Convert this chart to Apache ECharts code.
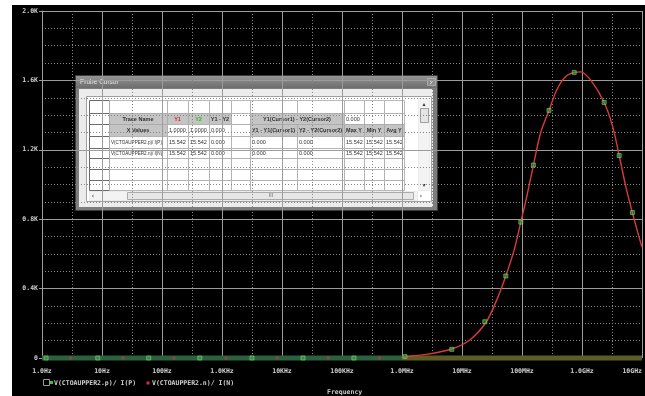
<!DOCTYPE html>
<html>
<head>
<meta charset="utf-8">
<script src="https://cdn.jsdelivr.net/npm/echarts@6/dist/echarts.min.js"></script>
<style>
  html, body { margin: 0; padding: 0; background: #fff; }
  #probe { width: 645px; height: 396px; }
</style>
</head>
<body>
<div id="probe"></div>
<script>
// trace: frequency (Hz) vs V/I
const curveFreqs = [1.0e6, 1.12e6, 2.57e6, 6.76e6, 1.35e7, 2.51e7, 3.80e7, 5.37e7, 7.41e7, 9.55e7,
  1.17e8, 1.55e8, 2.04e8, 2.82e8, 3.80e8, 5.25e8, 7.41e8, 9.55e8, 1.45e9, 2.34e9,
  3.24e9, 4.17e9, 5.37e9, 6.92e9, 8.71e9, 1.0e10];
const curveValues = [6, 8, 21, 52, 104, 206, 335, 473, 623, 783,
  912, 1112, 1297, 1427, 1546, 1620, 1646, 1649, 1594, 1473,
  1335, 1167, 988, 838, 710, 640];

// trace markers
const markerFreqs = [1.17, 8.5, 60, 427, 3.16e3, 2.24e4, 1.58e5, 1.12e6, 6.76e6, 2.40e7,
  5.37e7, 9.55e7, 1.55e8, 2.82e8, 7.41e8, 2.34e9, 4.17e9, 6.92e9];
const markerValues = [0, 0, 0, 0, 0, 0, 0, 8, 50, 209,
  473, 783, 1112, 1427, 1646, 1473, 1167, 838];
const redMarkerFreqs = [3.0, 22.4, 158, 1.17e3, 8.3e3, 5.9e4, 4.2e5];
const redMarkerValues = [0, 0, 0, 0, 0, 0, 0];

// zero-level bands at the bottom
const lowBandFreqs = [1, 1e6];
const highBandFreqs = [1e6, 1e10];

// one label per decade, 1 Hz .. 10 GHz
const xTickLabels = ['1.0Hz', '10Hz', '100Hz', '1.0KHz', '10KHz', '100KHz', '1.0MHz', '10MHz', '100MHz', '1.0GHz', '10GHz'];
const yTickLabels = ['0', '0.4K', '0.8K', '1.2K', '1.6K', '2.0K'];

// probe cursor table
const cursorRows = [
  ['', '', '', '', '', '', '', '', '', '', ''],
  ['', 'Trace Name', 'Y1', 'Y2', 'Y1 - Y2', '', 'Y1(Cursor1) - Y2(Cursor2)', null, '0.000', '', ''],
  ['', 'X Values', '1.0000', '1.0000', '0.000', '', 'Y1 - Y1(Cursor1)', 'Y2 - Y2(Cursor2)', 'Max Y', 'Min Y', 'Avg Y'],
  ['', 'V(CTOAUPPER2.p)/ I(P)', '15.542', '15.542', '0.000', '', '0.000', '0.000', '15.542', '15.542', '15.542'],
  ['', 'V(CTOAUPPER2.n)/ I(N)', '15.542', '15.542', '0.000', '', '0.000', '0.000', '15.542', '15.542', '15.542'],
  ['', '', '', '', '', '', '', '', '', '', ''],
  ['', '', '', '', '', '', '', '', '', '', ''],
  ['', '', '', '', '', '', '', '', '', '', '']
];

const pairs = (xs, ys) => xs.map((x, i) => [x, ys[i]]);

const mono = 'bold 6.5px "DejaVu Sans Mono", monospace';
const gridGray = '#9c9c9c';
const dotGray = '#858585';

// table layout
const colEdges = [89, 109, 167, 188, 209, 231, 250, 297, 344, 364, 384, 404];
const rowEdges = [100, 113, 124, 136, 148, 158, 169, 180, 190];
const grayCells = { '1-1': 1, '1-2': 1, '1-3': 1, '1-4': 1, '1-6': 1, '2-1': 1, '2-6': 1, '2-7': 1, '2-8': 1, '2-9': 1, '2-10': 1 };

function buildDialog() {
  const els = [];
  els.push({ type: 'rect', shape: { x: 75.5, y: 75.5, width: 362, height: 135 }, style: { fill: '#7d7d7d', stroke: '#3a3a3a', lineWidth: 1 } });
  els.push({ type: 'rect', shape: { x: 76, y: 76, width: 361, height: 12 },
    style: { fill: new echarts.graphic.LinearGradient(0, 0, 0, 1, [{ offset: 0, color: '#959595' }, { offset: 1, color: '#6c6c6c' }]) } });
  els.push({ type: 'text', x: 80, y: 82, style: { text: 'Probe Cursor', fill: '#e6e6e6', font: '6.5px "Liberation Sans", sans-serif', textVerticalAlign: 'middle' } });
  els.push({ type: 'rect', shape: { x: 427.5, y: 78.5, width: 8, height: 7 }, style: { fill: '#8d8d8d', stroke: '#cfcfcf', lineWidth: 0.5 } });
  els.push({ type: 'text', x: 431.5, y: 82, style: { text: 'x', fill: '#eee', font: '6px "Liberation Sans", sans-serif', textAlign: 'center', textVerticalAlign: 'middle' } });
  els.push({ type: 'rect', shape: { x: 79, y: 89, width: 354, height: 118 }, style: { fill: '#ececec' } });
  els.push({ type: 'rect', shape: { x: 86.5, y: 96.5, width: 345, height: 105 }, style: { fill: '#ffffff', stroke: '#a0a0a0', lineWidth: 1 } });

  cursorRows.forEach((row, r) => {
    row.forEach((txt, c) => {
      if (txt === null) return;
      let c2 = c + 1;
      while (c2 < row.length && row[c2] === null) c2++;
      const x0 = colEdges[c], x1 = colEdges[c2];
      const y0 = rowEdges[r], y1 = rowEdges[r + 1];
      const gray = grayCells[r + '-' + c];
      els.push({ type: 'rect', shape: { x: x0 + 0.5, y: y0 + 0.5, width: x1 - x0, height: y1 - y0 },
        style: { fill: gray ? '#c4c4c4' : '#ffffff', stroke: c === 0 ? '#6a6a6a' : '#a8a8a8', lineWidth: c === 0 ? 1 : 0.8 } });
      if (txt) {
        let color = '#303030';
        if (r === 1 && c === 2) color = '#e02020';
        if (r === 1 && c === 3) color = '#20c020';
        const center = gray;
        const size = (r >= 3 && c === 1) ? 4.6 : 5.5;
        els.push({ type: 'text', x: center ? (x0 + x1) / 2 : x0 + 2, y: (y0 + y1) / 2 + 0.5,
          style: { text: txt, fill: color, font: (gray ? 'bold ' : '') + size + 'px "Liberation Sans", sans-serif',
            textAlign: center ? 'center' : 'left', textVerticalAlign: 'middle' } });
      }
    });
  });

  // vertical scrollbar
  els.push({ type: 'rect', shape: { x: 418.5, y: 98.5, width: 11, height: 92 }, style: { fill: '#f3f3f3', stroke: '#dcdcdc', lineWidth: 0.5 } });
  els.push({ type: 'text', x: 424, y: 104, style: { text: '▴', fill: '#333', font: '6px "DejaVu Sans"', textAlign: 'center', textVerticalAlign: 'middle' } });
  els.push({ type: 'rect', shape: { x: 420.5, y: 108.5, width: 8, height: 14 }, style: { fill: '#e4e4e4', stroke: '#8a8a8a', lineWidth: 0.8 } });
  els.push({ type: 'text', x: 424, y: 185, style: { text: '▾', fill: '#333', font: '6px "DejaVu Sans"', textAlign: 'center', textVerticalAlign: 'middle' } });
  // horizontal scrollbar
  els.push({ type: 'rect', shape: { x: 89.5, y: 191.5, width: 328, height: 9 }, style: { fill: '#f3f3f3', stroke: '#dcdcdc', lineWidth: 0.5 } });
  els.push({ type: 'text', x: 93, y: 196, style: { text: '‹', fill: '#333', font: '7px "DejaVu Sans"', textAlign: 'center', textVerticalAlign: 'middle' } });
  els.push({ type: 'rect', shape: { x: 127.5, y: 192.5, width: 286, height: 7 }, style: { fill: '#e6e6e6', stroke: '#9a9a9a', lineWidth: 0.8 } });
  els.push({ type: 'text', x: 271, y: 196, style: { text: 'III', fill: '#666', font: '5px "Liberation Sans"', textAlign: 'center', textVerticalAlign: 'middle' } });
  els.push({ type: 'text', x: 421, y: 196, style: { text: '›', fill: '#333', font: '7px "DejaVu Sans"', textAlign: 'center', textVerticalAlign: 'middle' } });
  return els;
}

const chart = echarts.init(document.getElementById('probe'));

const option = {
  backgroundColor: '#000',
  animation: false,
  grid: { left: 42, top: 11, right: 3, bottom: 38, containLabel: false, outerBoundsMode: 'none' },
  xAxis: [
    {
      // log frequency axis that places the data
      type: 'log',
      logBase: 10,
      min: 1,
      max: 1e10,
      show: false
    },
    {
      // decade axis for grid lines and labels (value = decade index)
      type: 'value',
      position: 'bottom',
      min: 0,
      max: xTickLabels.length - 1,
      interval: 1,
      axisLine: { show: false },
      axisTick: { show: false },
      axisLabel: {
        color: '#d0d0d0',
        fontFamily: '"DejaVu Sans Mono", monospace',
        fontSize: 6.5,
        fontWeight: 'bold',
        margin: 10,
        showMinLabel: true,
        showMaxLabel: true,
        alignMaxLabel: 'right',
        formatter: v => xTickLabels[Math.round(v)]
      },
      splitLine: { show: true, lineStyle: { color: gridGray, width: 1 } },
      minorTick: { show: false, splitNumber: 2 },
      minorSplitLine: { show: true, lineStyle: { color: dotGray, type: [1, 2], width: 1 } }
    }
  ],
  yAxis: {
    type: 'value',
    min: 0,
    max: 2000,
    interval: 400,
    axisLine: { show: true, lineStyle: { color: gridGray } },
    axisTick: { show: true, length: 3, lineStyle: { color: gridGray } },
    axisLabel: {
      color: '#d0d0d0',
      fontFamily: '"DejaVu Sans Mono", monospace',
      fontSize: 6.5,
      fontWeight: 'bold',
      margin: 4,
      formatter: v => yTickLabels[Math.round(v / 400)]
    },
    splitLine: { show: true, lineStyle: { color: gridGray, width: 1 } },
    minorTick: { show: false, splitNumber: 4 },
    minorSplitLine: { show: true, lineStyle: { color: dotGray, type: [1, 2], width: 1 } }
  },
  series: [
    {
      type: 'line', data: pairs(lowBandFreqs, [0, 0]), symbol: 'none', silent: true, clip: false,
      lineStyle: { color: '#2d603f', width: 5 }, z: 2
    },
    {
      type: 'line', data: pairs(highBandFreqs, [0, 0]), symbol: 'none', silent: true, clip: false,
      lineStyle: { color: '#5c5c24', width: 5 }, z: 2
    },
    {
      type: 'line', data: pairs(curveFreqs, curveValues), symbol: 'none', smooth: 0.3, clip: false,
      lineStyle: { color: '#d83a3a', width: 1.4 }, z: 3
    },
    {
      type: 'scatter', data: pairs(redMarkerFreqs, redMarkerValues), symbol: 'rect', symbolSize: 3,
      itemStyle: { color: '#9a4838' }, z: 4
    },
    {
      type: 'scatter', data: pairs(markerFreqs, markerValues), symbol: 'rect', symbolSize: 4,
      itemStyle: { color: 'rgba(70,170,70,0.7)', borderColor: '#6fdc6f', borderWidth: 0.8 }, z: 5
    }
  ],
  graphic: [
    { type: 'rect', shape: { x: 0, y: 0, width: 12, height: 396 }, style: { fill: '#fff' } },
    { type: 'rect', shape: { x: 0, y: 0, width: 645, height: 5 }, style: { fill: '#fff' } },
    // trace legend
    { type: 'rect', shape: { x: 43.5, y: 379.5, width: 6, height: 6 }, style: { fill: 'none', stroke: '#9a9a9a', lineWidth: 1 } },
    { type: 'rect', shape: { x: 50, y: 381, width: 3, height: 3 }, style: { fill: '#3fbf3f' } },
    { type: 'text', x: 54, y: 383, style: { text: 'V(CTOAUPPER2.p)/ I(P)', fill: '#d0d0d0', font: mono, textVerticalAlign: 'middle' } },
    { type: 'rect', shape: { x: 146.5, y: 381.5, width: 3, height: 3 }, style: { fill: '#d03030' } },
    { type: 'text', x: 152, y: 383, style: { text: 'V(CTOAUPPER2.n)/ I(N)', fill: '#d0d0d0', font: mono, textVerticalAlign: 'middle' } },
    { type: 'text', x: 327, y: 392, style: { text: 'Frequency', fill: '#c8c8c8', font: mono, textVerticalAlign: 'middle' } },
    ...buildDialog()
  ]
};

chart.setOption(option);
</script>
</body>
</html>
